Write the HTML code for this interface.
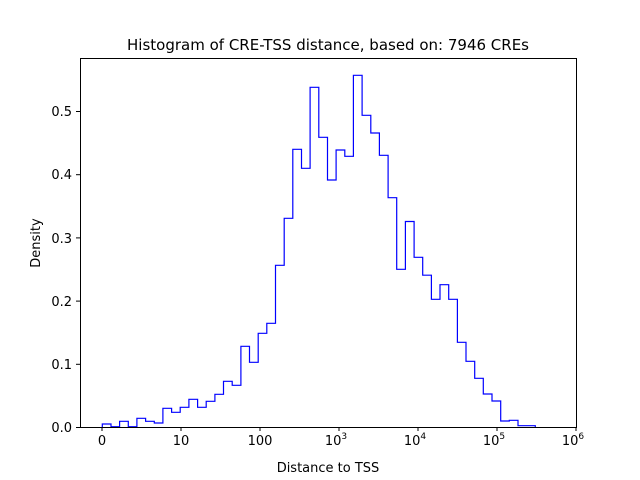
<!DOCTYPE html>
<html><head><meta charset="utf-8"><style>body{margin:0;background:#fff}svg{display:block}text{font-family:"DejaVu Sans","Liberation Sans",sans-serif;fill:#000}</style></head>
<body>
<svg width="640" height="480" xmlns="http://www.w3.org/2000/svg">
<rect width="640" height="480" fill="#fff"/>
<path fill="none" stroke="#0000ff" stroke-width="1.2" d="M102.3,427.5 V424 H111.0 V426.7 H119.6 V421.3 H128.3 V426.7 H136.9 V418.3 H145.6 V421.3 H154.3 V423 H162.9 V408.3 H171.6 V412.3 H180.2 V407.3 H188.9 V399.3 H197.6 V407.3 H206.2 V401.3 H214.9 V394.3 H223.5 V381.3 H232.2 V385.3 H240.9 V346.3 H249.5 V362.3 H258.2 V333.3 H266.8 V323.3 H275.5 V265.3 H284.2 V218.3 H292.8 V149.3 H301.5 V168.3 H310.1 V87.3 H318.8 V137.3 H327.5 V180 H336.1 V150 H344.8 V156.3 H353.4 V75.3 H362.1 V115.3 H370.8 V133 H379.4 V155.3 H388.1 V197.7 H396.7 V269.3 H405.4 V221.5 H414.1 V257.3 H422.7 V275.2 H431.4 V299.3 H440.0 V284.7 H448.7 V299.3 H457.4 V342.3 H466.0 V361.3 H474.7 V378.3 H483.3 V394 H492.0 V401 H500.7 V421 H509.3 V420.3 H518.0 V425.7 H535.3 V427.5"/>
<rect x="80.5" y="58.5" width="496" height="369" fill="none" stroke="#000" stroke-width="1"/>
<g stroke="#000" stroke-width="1">
<line x1="102" y1="427" x2="102" y2="431"/><line x1="181" y1="427" x2="181" y2="431"/><line x1="260" y1="427" x2="260" y2="431"/><line x1="339" y1="427" x2="339" y2="431"/><line x1="418" y1="427" x2="418" y2="431"/><line x1="497" y1="427" x2="497" y2="431"/><line x1="576" y1="427" x2="576" y2="431"/>
<line x1="76" y1="427.5" x2="80" y2="427.5"/><line x1="76" y1="364.3" x2="80" y2="364.3"/><line x1="76" y1="301.1" x2="80" y2="301.1"/><line x1="76" y1="237.9" x2="80" y2="237.9"/><line x1="76" y1="174.7" x2="80" y2="174.7"/><line x1="76" y1="111.5" x2="80" y2="111.5"/>
</g>
<g font-size="13" text-anchor="middle">
<text x="102" y="445">0</text><text x="181" y="445">10</text><text x="260" y="445">100</text>
<text x="336" y="445">10<tspan font-size="9" dy="-6">3</tspan></text>
<text x="415" y="445">10<tspan font-size="9" dy="-6">4</tspan></text>
<text x="494" y="445">10<tspan font-size="9" dy="-6">5</tspan></text>
<text x="573" y="445">10<tspan font-size="9" dy="-6">6</tspan></text>
</g>
<g font-size="13" text-anchor="end">
<text x="72" y="432">0.0</text><text x="72" y="369">0.1</text><text x="72" y="306">0.2</text><text x="72" y="243">0.3</text><text x="72" y="179">0.4</text><text x="72" y="116">0.5</text>
</g>
<text x="328" y="472" font-size="13" text-anchor="middle">Distance to TSS</text>
<text x="40" y="243" font-size="13" text-anchor="middle" transform="rotate(-90 40 243)">Density</text>
<text x="328" y="50" font-size="15" text-anchor="middle">Histogram of CRE-TSS distance, based on: 7946 CREs</text>
</svg>
</body></html>
